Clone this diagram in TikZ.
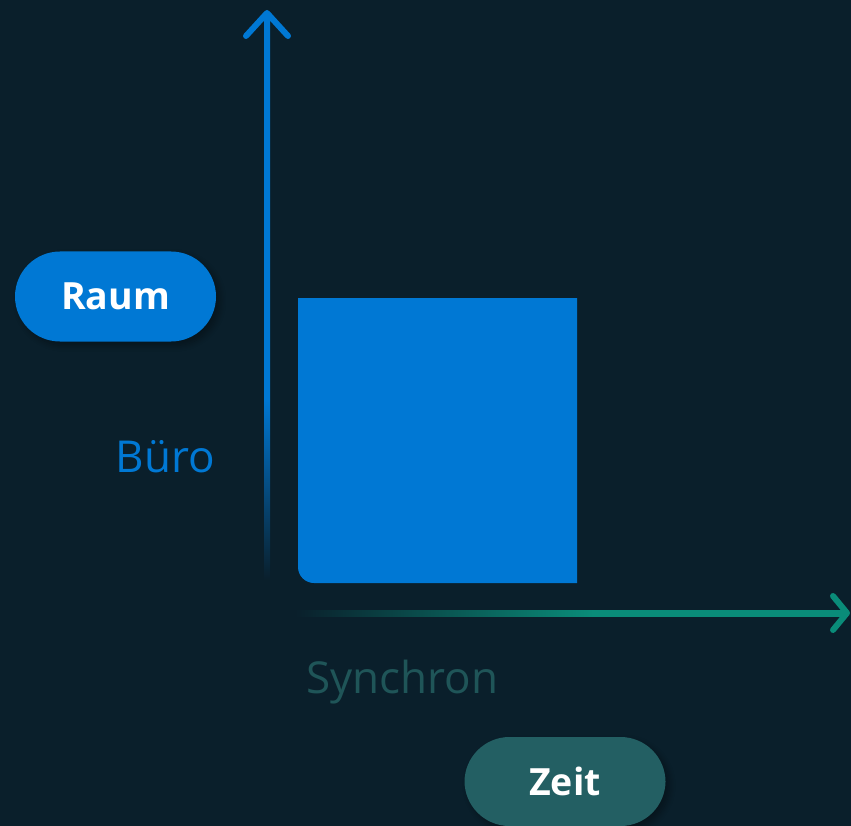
\documentclass[tikz,border=0pt]{standalone}
\usepackage{fontspec}
\setmainfont{Open Sans}
\usetikzlibrary{shadows.blur}
\definecolor{bg}{HTML}{0A1F2B}
\definecolor{axisblue}{HTML}{0078D4}
\definecolor{axisgreen}{HTML}{0A8C79}
\definecolor{pillteal}{HTML}{235F63}
\definecolor{labelteal}{HTML}{1F5558}
% axis fades: the path occupies 25bp..75bp of each shading
\pgfdeclareverticalshading{yfade}{100bp}{color(0bp)=(bg); color(25bp)=(bg);
  color(41bp)=(axisblue); color(100bp)=(axisblue)}
\pgfdeclarehorizontalshading{xfade}{100bp}{color(0bp)=(bg); color(25bp)=(bg);
  color(52bp)=(axisgreen); color(100bp)=(axisgreen)}
\tikzset{
  pill/.style={rectangle, rounded corners=45pt, minimum width=201pt, minimum height=90pt,
    text=white, font=\fontsize{37.5}{40}\selectfont\bfseries, inner sep=0pt,
    blur shadow={shadow xshift=4pt, shadow yshift=-4pt, shadow blur radius=6pt,
      shadow blur steps=10, shadow opacity=35}},
  axisline/.style={line width=6pt, line cap=round, line join=round},
  axislabel/.style={font=\fontsize{44}{48}\selectfont, inner sep=0pt}
}
\begin{document}
\begin{tikzpicture}[x=1pt,y=-1pt]
  \useasboundingbox[fill=bg] (0,0) rectangle (851,826);

  % end points of the axes
  \coordinate (yfoot) at (267,580);
  \coordinate (ytip) at (267,13);
  \coordinate (xfoot) at (295,613);
  \coordinate (xtip) at (847,613);

  % vertical axis: shaded shaft and chevron head
  \shade[shading=yfade] ([xshift=-3pt]yfoot) rectangle ([xshift=3pt]ytip);
  \draw[axisline, axisblue] (246,36) -- (ytip) -- (288,36);

  % horizontal axis
  \shade[shading=xfade] ([yshift=3pt]xfoot) rectangle ([yshift=-3pt]xtip);
  \draw[axisline, axisgreen] (833,596) -- (xtip) -- (833,630);

  % occupied region
  \fill[axisblue] (298,298) -- (577,298) -- (577,583)
    {[rounded corners=16pt] -- (298,583)} -- cycle;

  % pills
  \node[pill, fill=axisblue] (raum) at (115.5,296.5) {Raum};
  \node[pill, fill=pillteal, minimum height=89pt] (zeit) at (565,781.5) {Zeit};

  % axis labels
  \node[axislabel, text=axisblue, anchor=base east] (buero) at (215,472) {Büro};
  \node[axislabel, text=labelteal, anchor=base west] (synchron) at (306,693) {Synchron};
\end{tikzpicture}
\end{document}
